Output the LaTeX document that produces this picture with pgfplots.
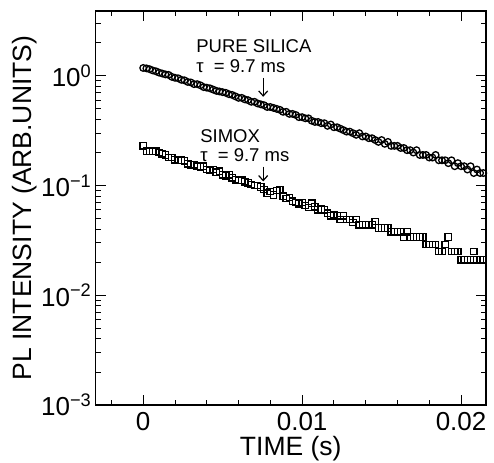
\documentclass[border=0pt]{standalone}
\usepackage{fontspec}
\setmainfont{Liberation Sans}
\usepackage{pgfplots}
\pgfplotsset{compat=1.18}
\usetikzlibrary{arrows.meta}

\pgfplotstableread{
t v
0.0000 1.18
0.0002 1.17
0.0004 1.15
0.0006 1.12
0.0008 1.10
0.0010 1.07
0.0012 1.05
0.0014 1.03
0.0016 1.02
0.0018 0.98
0.0020 0.96
0.0022 0.95
0.0024 0.92
0.0026 0.91
0.0028 0.88
0.0030 0.87
0.0032 0.84
0.0034 0.84
0.0036 0.82
0.0038 0.79
0.0040 0.78
0.0042 0.77
0.0044 0.75
0.0046 0.73
0.0048 0.72
0.0050 0.71
0.0052 0.70
0.0054 0.68
0.0056 0.67
0.0058 0.65
0.0060 0.63
0.0062 0.63
0.0064 0.61
0.0066 0.60
0.0068 0.58
0.0070 0.58
0.0072 0.56
0.0074 0.55
0.0076 0.54
0.0078 0.52
0.0080 0.52
0.0082 0.51
0.0084 0.50
0.0086 0.49
0.0088 0.47
0.0090 0.47
0.0092 0.45
0.0094 0.45
0.0096 0.44
0.0098 0.42
0.0100 0.42
0.0102 0.41
0.0104 0.41
0.0106 0.39
0.0108 0.38
0.0110 0.38
0.0112 0.37
0.0114 0.37
0.0116 0.35
0.0118 0.36
0.0120 0.34
0.0122 0.34
0.0124 0.33
0.0126 0.32
0.0128 0.31
0.0130 0.31
0.0132 0.30
0.0134 0.29
0.0136 0.30
0.0138 0.28
0.0140 0.28
0.0142 0.27
0.0144 0.27
0.0146 0.26
0.0148 0.25
0.0150 0.26
0.0152 0.24
0.0154 0.25
0.0156 0.23
0.0158 0.23
0.0160 0.23
0.0162 0.22
0.0164 0.22
0.0166 0.21
0.0168 0.21
0.0170 0.20
0.0172 0.21
0.0174 0.19
0.0176 0.19
0.0178 0.19
0.0180 0.18
0.0182 0.18
0.0184 0.19
0.0186 0.17
0.0188 0.17
0.0190 0.17
0.0192 0.16
0.0194 0.17
0.0196 0.15
0.0198 0.16
0.0200 0.15
0.0202 0.15
0.0204 0.14
0.0206 0.15
0.0208 0.13
0.0210 0.14
0.0212 0.13
0.0214 0.13
}\silica

\pgfplotstableread{
t v
0.0000 0.230
0.0002 0.205
0.0004 0.205
0.0006 0.205
0.0008 0.205
0.0010 0.200
0.0012 0.195
0.0014 0.190
0.0016 0.180
0.0018 0.180
0.0020 0.172
0.0022 0.170
0.0024 0.170
0.0026 0.168
0.0028 0.158
0.0030 0.155
0.0032 0.155
0.0034 0.150
0.0036 0.148
0.0038 0.150
0.0040 0.140
0.0042 0.138
0.0044 0.140
0.0046 0.132
0.0048 0.135
0.0050 0.125
0.0052 0.123
0.0054 0.125
0.0056 0.118
0.0058 0.113
0.0060 0.112
0.0062 0.112
0.0064 0.108
0.0066 0.106
0.0068 0.102
0.0070 0.100
0.0072 0.100
0.0074 0.097
0.0076 0.092
0.0078 0.085
0.0080 0.088
0.0082 0.082
0.0084 0.090
0.0086 0.091
0.0088 0.080
0.0090 0.076
0.0092 0.078
0.0094 0.072
0.0096 0.070
0.0098 0.068
0.0100 0.070
0.0102 0.066
0.0104 0.063
0.0106 0.069
0.0108 0.064
0.0110 0.060
0.0112 0.061
0.0114 0.060
0.0116 0.056
0.0118 0.053
0.0120 0.054
0.0122 0.053
0.0124 0.049
0.0126 0.053
0.0128 0.049
0.0130 0.049
0.0132 0.046
0.0134 0.049
0.0136 0.044
0.0138 0.044
0.0140 0.044
0.0142 0.044
0.0144 0.044
0.0146 0.047
0.0148 0.041
0.0150 0.041
0.0152 0.041
0.0154 0.041
0.0156 0.038
0.0158 0.038
0.0160 0.038
0.0162 0.038
0.0164 0.034
0.0166 0.038
0.0168 0.034
0.0170 0.034
0.0172 0.034
0.0174 0.034
0.0176 0.034
0.0178 0.029
0.0180 0.029
0.0182 0.029
0.0184 0.029
0.0186 0.025
0.0188 0.025
0.0190 0.029
0.0192 0.034
0.0194 0.025
0.0196 0.025
0.0198 0.025
0.0200 0.021
0.0202 0.021
0.0204 0.021
0.0206 0.021
0.0208 0.025
0.0210 0.021
0.0212 0.021
0.0214 0.021
}\simox

\begin{document}
\begin{tikzpicture}
\begin{axis}[
  scale only axis,
  width=390.5pt, height=394pt,
  xmin=-0.003, xmax=0.02157,
  ymode=log, ymin=1e-3, ymax=3.9,
  xtick={0,0.01,0.02},
  xticklabels={0,0.01,0.02},
  scaled x ticks=false,
  minor xtick={-0.002,0.002,0.004,0.006,0.008,0.012,0.014,0.016,0.018},
  ytick={0.001,0.01,0.1,1},
  yticklabels={{10\textsuperscript{−3}},{10\textsuperscript{−2}},{10\textsuperscript{−1}},{10\textsuperscript{0}}},
  minor ytick={0.002,0.003,0.004,0.005,0.006,0.007,0.008,0.009,0.02,0.03,0.04,0.05,0.06,0.07,0.08,0.09,0.2,0.3,0.4,0.5,0.6,0.7,0.8,0.9,2,3},
  tick align=inside,
  major tick length=10pt, minor tick length=5pt,
  tick style={black, line width=0.9pt},
  axis line style={line width=1.1pt},
  ticklabel style={font=\fontsize{26}{28}\selectfont},
  xticklabel style={anchor=north, inner sep=0pt, yshift=-7pt},
  yticklabel style={anchor=east, inner sep=0pt, xshift=-4pt},
  xlabel={TIME (s)},
  ylabel={PL INTENSITY (ARB.UNITS)},
  label style={font=\fontsize{26.5}{30}\selectfont},
  x label style={at={(axis description cs:0.5,-0.080)}, anchor=north, inner sep=0pt},
  y label style={at={(axis description cs:-0.149,0.5)}, anchor=south, inner sep=0pt, rotate=0},
  clip=false,
]
\addplot[only marks, mark=o, mark size=3.3pt, mark options={line width=1.3pt, fill=white}] table[x=t, y=v] {\silica};
\addplot[only marks, mark=square, mark size=3.2pt, mark options={line width=1.3pt, fill=white}] table[x=t, y=v] {\simox};

\node[anchor=base west, inner sep=0pt, font=\fontsize{18.5}{20}\selectfont] at (axis cs:0.00333,1.62) {PURE SILICA};
\node[anchor=base west, inner sep=0pt, font=\fontsize{18.5}{20}\selectfont] at (axis cs:0.00333,1.065) {τ\ \ = 9.7 ms};
\draw[-{Straight Barb[length=5pt,width=9pt]}, line width=1.2pt] (axis cs:0.00755,0.96) -- (axis cs:0.00755,0.644);

\node[anchor=base west, inner sep=0pt, font=\fontsize{18.5}{20}\selectfont] at (axis cs:0.00358,0.246) {SIMOX};
\node[anchor=base west, inner sep=0pt, font=\fontsize{18.5}{20}\selectfont] at (axis cs:0.00358,0.165) {τ\ \ = 9.7 ms};
\draw[-{Straight Barb[length=5pt,width=9pt]}, line width=1.2pt] (axis cs:0.00755,0.149) -- (axis cs:0.00755,0.109);

\coordinate (bbl) at (rel axis cs:-0.2446,-0.1472);
\coordinate (btr) at (rel axis cs:1.0205,1.0279);
\end{axis}
\pgfresetboundingbox
\path (bbl) rectangle (btr);
\end{tikzpicture}
\end{document}
